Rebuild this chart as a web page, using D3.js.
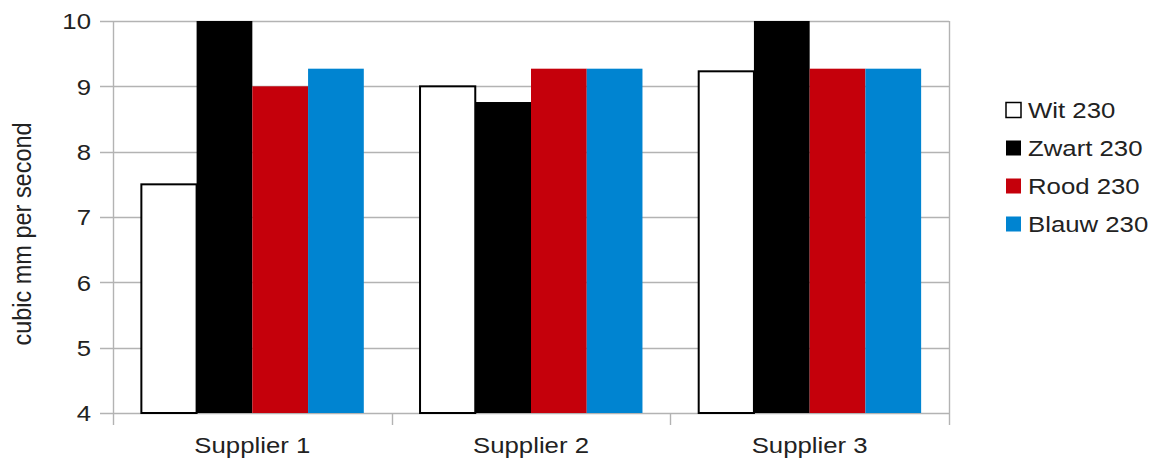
<!DOCTYPE html>
<html>
<head>
<meta charset="utf-8">
<script src="https://cdn.jsdelivr.net/npm/d3@7/dist/d3.min.js"></script>
<style>
  html, body { margin: 0; padding: 0; background: #fff; }
  svg text { font-family: "Liberation Sans", Arial, sans-serif; fill: #222; }
</style>
</head>
<body>
<svg id="chart" width="1156" height="461"></svg>
<script>
// Extrusion rate per supplier and filament colour
const suppliers = ["Supplier 1", "Supplier 2", "Supplier 3"];
const seriesNames = ["Wit 230", "Zwart 230", "Rood 230", "Blauw 230"];
const wit230   = [7.5, 9.0, 9.23];
const zwart230 = [10.0, 8.76, 10.0];
const rood230  = [9.0, 9.27, 9.27];
const blauw230 = [9.27, 9.27, 9.27];
const yTicks = [4, 5, 6, 7, 8, 9, 10];
const yLabel = "cubic mm per second";

const seriesValues = [wit230, zwart230, rood230, blauw230];
const fills = ["#ffffff", "#000000", "#c5000b", "#0084d1"];
const strokes = ["#000000", "none", "none", "none"];
const textStretch = 1.12; // glyphs are drawn slightly wide

const svg = d3.select("#chart");
const plot = { left: 113, right: 949, top: 21, bottom: 413 };

const x0 = d3.scaleBand().domain(suppliers)
  .range([plot.left, plot.right]).paddingInner(0.2).paddingOuter(0.1);
const x1 = d3.scaleBand().domain(seriesNames).range([0, x0.bandwidth()]);
const y = d3.scaleLinear().domain([4, 10]).range([plot.bottom, plot.top]);

// Horizontal grid
svg.append("g").selectAll("line").data(yTicks).join("line")
  .attr("x1", plot.left - 13).attr("x2", plot.right)
  .attr("y1", d => Math.round(y(d)) + 0.5).attr("y2", d => Math.round(y(d)) + 0.5)
  .attr("stroke", "#b3b3b3").attr("stroke-width", 1.4);

// Right frame edge
svg.append("line")
  .attr("x1", plot.right + 0.5).attr("x2", plot.right + 0.5)
  .attr("y1", plot.top).attr("y2", plot.bottom)
  .attr("stroke", "#b3b3b3").attr("stroke-width", 1.4);

// Category separators on the x axis
const sepX = [plot.left, ...suppliers.map(s => x0(s) + x0.bandwidth() + x0.step() * x0.paddingInner() / 2)];
sepX[sepX.length - 1] = plot.right;
svg.append("g").selectAll("line").data(sepX).join("line")
  .attr("x1", d => Math.round(d) + 0.5).attr("x2", d => Math.round(d) + 0.5)
  .attr("y1", (d, i) => i === 0 ? plot.top : plot.bottom)
  .attr("y2", plot.bottom + 12)
  .attr("stroke", "#b3b3b3").attr("stroke-width", 1.4);

// Bars
const groups = svg.append("g").selectAll("g").data(suppliers).join("g")
  .attr("transform", d => `translate(${x0(d)},0)`);
groups.selectAll("rect")
  .data((s, i) => seriesNames.map((n, k) => ({ name: n, k, v: seriesValues[k][i] })))
  .join("rect")
  .attr("x", d => x1(d.name) + (d.k === 0 ? 0.5 : 0))
  .attr("width", d => x1.bandwidth() - (d.k === 0 ? 0.5 : 0))
  .attr("y", d => y(Math.min(d.v, 10)))
  .attr("height", d => y(4) - y(Math.min(d.v, 10)))
  .attr("fill", d => fills[d.k])
  .attr("stroke", d => strokes[d.k])
  .attr("stroke-width", 2);

// Y tick labels
svg.append("g").selectAll("text").data(yTicks).join("text")
  .attr("transform", d => `translate(91,${y(d)}) scale(${textStretch},1)`)
  .attr("dy", "0.36em").attr("text-anchor", "end")
  .attr("font-size", 23).text(d => d);

// X category labels
svg.append("g").selectAll("text").data(suppliers).join("text")
  .attr("transform", d => `translate(${x0(d) + x0.bandwidth() / 2},453) scale(${textStretch},1)`)
  .attr("text-anchor", "middle").attr("font-size", 23).text(d => d);

// Y axis title
svg.append("text")
  .attr("transform", `translate(31,234) scale(${textStretch},1) rotate(-90)`)
  .attr("text-anchor", "middle").attr("font-size", 23.5).text(yLabel);

// Legend
const legend = svg.append("g").selectAll("g").data(seriesNames).join("g")
  .attr("transform", (d, i) => `translate(1006,${110 + i * 38})`);
legend.append("rect")
  .attr("x", 0).attr("y", -7.5).attr("width", 15).attr("height", 15)
  .attr("fill", (d, i) => fills[i])
  .attr("stroke", (d, i) => i === 0 ? "#000" : "none").attr("stroke-width", 1.5);
legend.append("text")
  .attr("transform", `translate(22,0) scale(${textStretch},1)`)
  .attr("dy", "0.36em")
  .attr("font-size", 23).text(d => d);
</script>
</body>
</html>
